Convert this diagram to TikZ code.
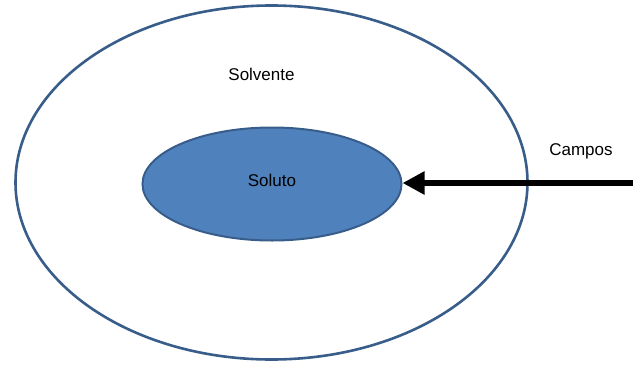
\documentclass[tikz,border=0pt]{standalone}
\usepackage{fontspec}
\setmainfont{Liberation Sans}
\usetikzlibrary{shapes.geometric,arrows.meta}
\definecolor{ofill}{HTML}{4F81BD}
\definecolor{oline}{HTML}{385D8A}
\tikzset{
  lbl/.style={font=\fontsize{17}{20}\selectfont, text=black, inner sep=0pt},
  ring/.style={ellipse, draw=oline, line width=2.6pt, inner sep=0pt},
  blob/.style={ellipse, draw=oline, fill=ofill, line width=2pt, inner sep=0pt},
  field/.style={line width=6pt, -{Triangle[length=22pt,width=22pt]}}
}
\begin{document}
\begin{tikzpicture}[x=1pt,y=-1pt]
\useasboundingbox (0,0) rectangle (639,364);
\node[ring, minimum width=512pt, minimum height=354pt] (solvente) at (271.5,182.5) {};
\node[blob, minimum width=259pt, minimum height=113pt] (soluto) at (272,184) {};
\node[lbl] (tsolvente) at (261.5,74) {Solvente};
\node[lbl] (tsoluto) at (272,180) {Soluto};
\node[lbl] (tcampos) at (581,151) {Campos};
\coordinate (fstart) at (633,183);
\draw[field] (fstart) -- (soluto.east |- fstart);
\end{tikzpicture}
\end{document}
